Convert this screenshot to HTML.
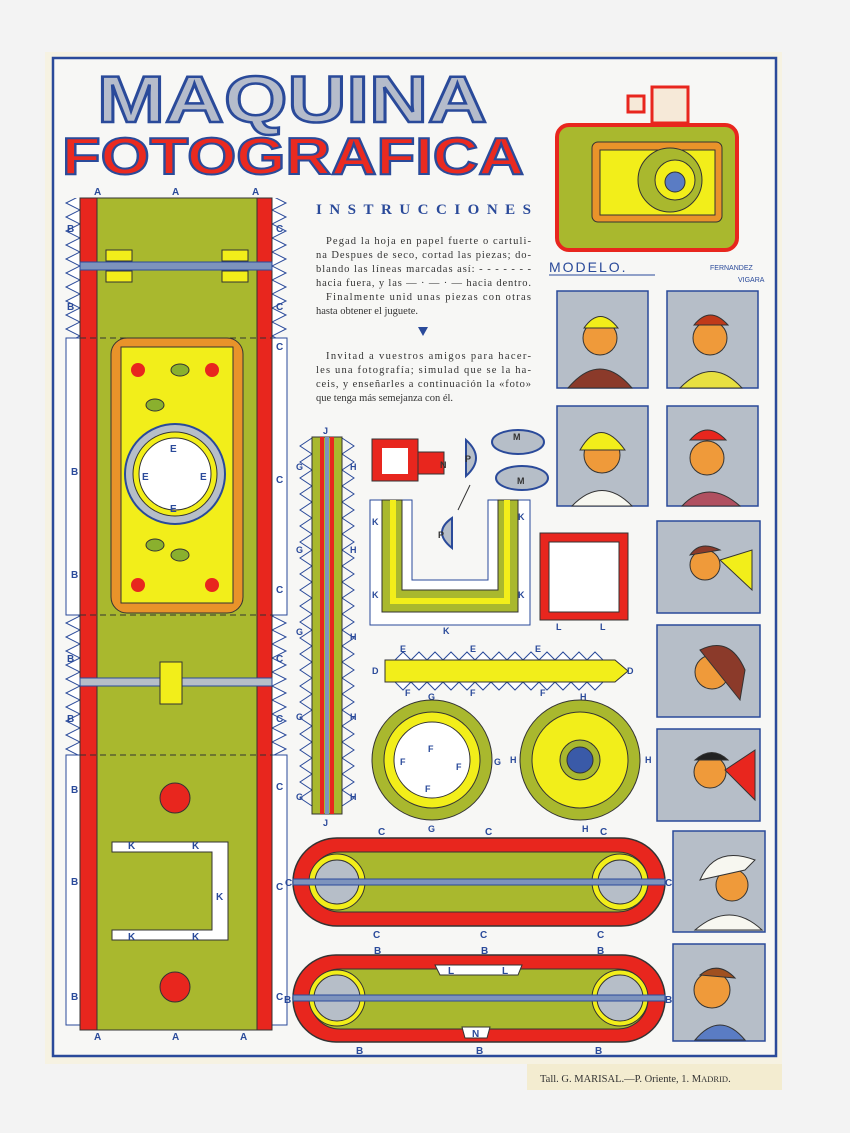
<!DOCTYPE html>
<html><head><meta charset="utf-8"><style>
html,body{margin:0;padding:0;background:#f2f2f2;}
svg{display:block}
text{font-family:"Liberation Sans",sans-serif;}
text.s, .s text{font-family:"Liberation Serif",serif;}
</style></head><body>
<svg width="850" height="1133" viewBox="0 0 850 1133" xmlns="http://www.w3.org/2000/svg">
<defs>
<pattern id="zzL" width="16" height="14" patternUnits="userSpaceOnUse"><path d="M16 0 L2 7 L16 14" fill="#fff" stroke="#2a4a9a" stroke-width="1"/></pattern>
</defs>
<rect width="850" height="1133" fill="#f3f3f3"/>
<rect x="45" y="52" width="737" height="1012" fill="#f6f2e2"/>
<rect x="53" y="58" width="723" height="998" fill="#f7f7f5" stroke="#2a4a9a" stroke-width="2.5"/>
<rect x="527" y="1064" width="255" height="26" fill="#f3ecd0"/>
<text class="s" x="540" y="1082" font-size="10.5" fill="#333">Tall. G. MARISAL.—P. Oriente, 1. M<tspan font-size="8.5">ADRID</tspan>.</text>

<!-- Title -->
<g font-weight="bold">
<text x="97" y="122" font-size="66" fill="#b5bccb" stroke="#2a4a9a" stroke-width="2.5" textLength="390" lengthAdjust="spacingAndGlyphs">MAQUINA</text>
<text x="62" y="174" font-size="52" fill="#ea2a20" stroke="#2a4a9a" stroke-width="2" textLength="462" lengthAdjust="spacingAndGlyphs">FOTOGRAFICA</text>
</g>

<!-- Instructions -->
<text class="s" x="316" y="214" font-weight="bold" font-size="15" fill="#2a4a9a" textLength="215" lengthAdjust="spacing">INSTRUCCIONES</text>
<g class="s" font-size="10.5" fill="#333">
<text x="326" y="244" textLength="205">Pegad la hoja en papel fuerte o cartuli-</text>
<text x="316" y="258" textLength="215">na Despues de seco, cortad las piezas; do-</text>
<text x="316" y="272" textLength="215">blando las líneas marcadas así: - - - - - - -</text>
<text x="316" y="286" textLength="215">hacia fuera, y las — · — · — hacia dentro.</text>
<text x="326" y="300" textLength="205">Finalmente unid unas piezas con otras</text>
<text x="316" y="314">hasta obtener el juguete.</text>
<text x="326" y="359" textLength="205">Invitad a vuestros amigos para hacer-</text>
<text x="316" y="373" textLength="215">les una fotografía; simulad que se la ha-</text>
<text x="316" y="387" textLength="215">ceis, y enseñarles a continuación la «foto»</text>
<text x="316" y="401">que tenga más semejanza con él.</text>
</g>
<path d="M418 327 L428 327 L423 336Z" fill="#2a4a9a"/>

<!-- Camera model -->
<g stroke="#333" stroke-width="1">
<rect x="628" y="96" width="16" height="16" fill="#f6e9d8" stroke="#e8261e" stroke-width="3"/>
<rect x="652" y="87" width="36" height="36" fill="#f6e9d8" stroke="#e8261e" stroke-width="3"/>
<rect x="557" y="125" width="180" height="125" rx="12" fill="#a9b82e" stroke="#e8261e" stroke-width="4"/>
<rect x="592" y="142" width="130" height="80" rx="6" fill="#e9932a"/>
<rect x="600" y="150" width="115" height="65" fill="#f2ee1a"/>
<circle cx="670" cy="180" r="32" fill="#a9b82e"/>
<circle cx="675" cy="180" r="20" fill="#f2ee1a"/>
<circle cx="675" cy="182" r="10" fill="#5a7cc4"/>
</g>
<text x="549" y="272" font-size="14" fill="#2a4a9a" letter-spacing="2">MODELO.</text>
<line x1="549" y1="275" x2="655" y2="275" stroke="#2a4a9a"/>
<text x="710" y="270" font-size="7" fill="#2a4a9a">FERNANDEZ</text>
<text x="738" y="282" font-size="7" fill="#2a4a9a">VIGARA</text>

<!-- Portraits -->
<g fill="#b6bec8" stroke="#2a4a9a" stroke-width="1.5">
<rect x="557" y="291" width="91" height="97"/><rect x="667" y="291" width="91" height="97"/>
<rect x="557" y="406" width="91" height="100"/><rect x="667" y="406" width="91" height="100"/>
<rect x="657" y="521" width="103" height="92"/><rect x="657" y="625" width="103" height="92"/>
<rect x="657" y="729" width="103" height="92"/><rect x="673" y="831" width="92" height="101"/>
<rect x="673" y="944" width="92" height="97"/>
</g>
<g stroke="#333" stroke-width="1">
<circle cx="600" cy="338" r="17" fill="#ef9a3a"/><path d="M568 388 Q600 350 632 388Z" fill="#8b3a2a"/><path d="M584 328 Q600 305 618 328Z" fill="#f2ee1a"/>
<circle cx="710" cy="338" r="17" fill="#ef9a3a"/><path d="M680 388 Q712 355 742 388Z" fill="#e8e040"/><path d="M694 325 Q710 305 728 325Z" fill="#c03a1a"/>
<circle cx="602" cy="455" r="18" fill="#ef9a3a"/><path d="M580 450 Q600 415 625 450Z" fill="#f2ee1a"/><path d="M572 506 Q602 475 632 506Z" fill="#f7f7f0"/>
<circle cx="707" cy="458" r="17" fill="#ef9a3a"/><path d="M690 440 Q707 420 726 440Z" fill="#e8261e"/><path d="M682 506 Q708 478 740 506Z" fill="#b05060"/>
<circle cx="705" cy="565" r="15" fill="#ef9a3a"/><path d="M690 555 Q700 540 720 550Z" fill="#8b3a2a"/><path d="M720 560 L752 550 L752 590Z" fill="#f2ee1a"/>
<circle cx="712" cy="672" r="17" fill="#ef9a3a"/><path d="M700 650 Q730 635 745 670 L740 700Z" fill="#8b3a2a"/>
<circle cx="710" cy="772" r="16" fill="#ef9a3a"/><path d="M695 760 Q712 745 728 760Z" fill="#222"/><path d="M725 770 L755 750 L755 800Z" fill="#e8261e"/>
<circle cx="732" cy="885" r="16" fill="#ef9a3a"/><path d="M700 880 Q715 845 755 860 L745 870Z" fill="#f7f7f0"/><path d="M695 930 Q730 900 762 930Z" fill="#f7f7f0"/>
<circle cx="712" cy="990" r="18" fill="#ef9a3a"/><path d="M700 975 Q718 960 735 978Z" fill="#a05020"/><path d="M695 1040 Q720 1010 745 1040Z" fill="#5a7cc4"/>
</g>

<!-- Long strip -->
<rect x="65" y="198" width="16" height="140" fill="url(#zzL)"/>
<rect x="65" y="615" width="16" height="140" fill="url(#zzL)"/>
<rect x="272" y="198" width="16" height="140" fill="url(#zzL)" transform="translate(560 0) scale(-1 1)"/>
<rect x="272" y="615" width="16" height="140" fill="url(#zzL)" transform="translate(560 0) scale(-1 1)"/>
<rect x="66" y="338" width="15" height="277" fill="#fff" stroke="#2a4a9a"/>
<rect x="272" y="338" width="15" height="277" fill="#fff" stroke="#2a4a9a"/>
<rect x="66" y="755" width="15" height="270" fill="#fff" stroke="#2a4a9a"/>
<rect x="272" y="755" width="15" height="270" fill="#fff" stroke="#2a4a9a"/>
<rect x="80" y="198" width="192" height="832" fill="#e8261e" stroke="#333"/>
<rect x="97" y="198" width="160" height="832" fill="#a9b82e" stroke="#333"/>
<g stroke="#333" stroke-dasharray="6 4"><line x1="80" y1="338" x2="272" y2="338"/><line x1="80" y1="615" x2="272" y2="615"/><line x1="80" y1="755" x2="272" y2="755"/></g>
<rect x="80" y="262" width="192" height="8" fill="#7d93bd" stroke="#2a4a9a"/>
<rect x="80" y="678" width="192" height="8" fill="#b6bec8" stroke="#2a4a9a"/>
<g fill="#f2ee1a" stroke="#333"><rect x="106" y="250" width="26" height="11"/><rect x="222" y="250" width="26" height="11"/><rect x="106" y="271" width="26" height="11"/><rect x="222" y="271" width="26" height="11"/><rect x="160" y="662" width="22" height="42"/></g>
<rect x="111" y="338" width="132" height="275" rx="16" fill="#e9932a" stroke="#333"/>
<rect x="121" y="347" width="112" height="256" fill="#f2ee1a" stroke="#333"/>
<circle cx="175" cy="474" r="50" fill="#b6bec8" stroke="#2a4a9a" stroke-width="2"/>
<circle cx="175" cy="474" r="42" fill="#f2ee1a" stroke="#333"/>
<circle cx="175" cy="474" r="36" fill="#fff" stroke="#333"/>
<g fill="#e8261e"><circle cx="138" cy="370" r="7"/><circle cx="212" cy="370" r="7"/><circle cx="138" cy="585" r="7"/><circle cx="212" cy="585" r="7"/></g>
<g fill="#8ab02e" stroke="#333"><ellipse cx="180" cy="370" rx="9" ry="6"/><ellipse cx="155" cy="405" rx="9" ry="6"/><ellipse cx="155" cy="545" rx="9" ry="6"/><ellipse cx="180" cy="555" rx="9" ry="6"/></g>
<circle cx="175" cy="798" r="15" fill="#e8261e" stroke="#333"/>
<circle cx="175" cy="987" r="15" fill="#e8261e" stroke="#333"/>
<path d="M112 842 H228 V940 H112 V930 H212 V852 H112Z" fill="#fff" stroke="#333"/>
<g font-size="10" fill="#2a4a9a" font-weight="bold">
<text x="94" y="195">A</text><text x="172" y="195">A</text><text x="252" y="195">A</text>
<text x="94" y="1040">A</text><text x="172" y="1040">A</text><text x="240" y="1040">A</text>
<text x="67" y="232">B</text><text x="67" y="310">B</text><text x="71" y="475">B</text><text x="71" y="578">B</text><text x="67" y="662">B</text><text x="67" y="722">B</text><text x="71" y="793">B</text><text x="71" y="885">B</text><text x="71" y="1000">B</text>
<text x="276" y="232">C</text><text x="276" y="310">C</text><text x="276" y="350">C</text><text x="276" y="483">C</text><text x="276" y="593">C</text><text x="276" y="662">C</text><text x="276" y="722">C</text><text x="276" y="790">C</text><text x="276" y="890">C</text><text x="276" y="1000">C</text>
<text x="170" y="452">E</text><text x="142" y="480">E</text><text x="200" y="480">E</text><text x="170" y="512">E</text>
<text x="128" y="849">K</text><text x="192" y="849">K</text><text x="216" y="900">K</text><text x="128" y="940">K</text><text x="192" y="940">K</text>
</g>

<!-- Vertical strip J -->
<path d="M312 438 L300 446 L312 454 L300 462 L312 470 L300 478 L312 486 L300 494 L312 502 L300 510 L312 518 L300 526 L312 534 L300 542 L312 550 L300 558 L312 566 L300 574 L312 582 L300 590 L312 598 L300 606 L312 614 L300 622 L312 630 L300 638 L312 646 L300 654 L312 662 L300 670 L312 678 L300 686 L312 694 L300 702 L312 710 L300 718 L312 726 L300 734 L312 742 L300 750 L312 758 L300 766 L312 774 L300 782 L312 790 L300 798 L312 806" fill="none" stroke="#2a4a9a"/>
<path d="M342 438 L354 446 L342 454 L354 462 L342 470 L354 478 L342 486 L354 494 L342 502 L354 510 L342 518 L354 526 L342 534 L354 542 L342 550 L354 558 L342 566 L354 574 L342 582 L354 590 L342 598 L354 606 L342 614 L354 622 L342 630 L354 638 L342 646 L354 654 L342 662 L354 670 L342 678 L354 686 L342 694 L354 702 L342 710 L354 718 L342 726 L354 734 L342 742 L354 750 L342 758 L354 766 L342 774 L354 782 L342 790 L354 798 L342 806" fill="none" stroke="#2a4a9a"/>
<rect x="312" y="437" width="30" height="377" fill="#a9b82e" stroke="#333"/>
<rect x="320" y="437" width="4" height="377" fill="#e8261e"/><rect x="330" y="437" width="4" height="377" fill="#e8261e"/>
<rect x="325" y="437" width="4" height="377" fill="#7d93bd"/>
<g font-size="9" fill="#2a4a9a" font-weight="bold"><text x="323" y="434">J</text><text x="323" y="826">J</text>
<text x="296" y="470">G</text><text x="296" y="553">G</text><text x="296" y="635">G</text><text x="296" y="720">G</text><text x="296" y="800">G</text>
<text x="350" y="470">H</text><text x="350" y="553">H</text><text x="350" y="640">H</text><text x="350" y="720">H</text><text x="350" y="800">H</text></g>

<!-- viewfinder pieces -->
<rect x="372" y="439" width="46" height="42" fill="#e8261e" stroke="#333"/>
<rect x="382" y="448" width="26" height="26" fill="#fff"/>
<path d="M418 452 H444 V474 H418Z" fill="#e8261e" stroke="#333"/>
<path d="M466 440 Q486 458 466 476Z" fill="#b6bec8" stroke="#2a4a9a" stroke-width="2"/>
<path d="M452 518 Q432 532 452 548Z" fill="#b6bec8" stroke="#2a4a9a" stroke-width="2"/>
<ellipse cx="518" cy="442" rx="26" ry="12" fill="#b6bec8" stroke="#2a4a9a" stroke-width="2"/>
<ellipse cx="522" cy="478" rx="26" ry="12" fill="#b6bec8" stroke="#2a4a9a" stroke-width="2"/>
<line x1="470" y1="485" x2="458" y2="510" stroke="#333"/>
<g font-size="9" fill="#333" font-weight="bold"><text x="440" y="468">N</text><text x="465" y="462">P</text><text x="438" y="538">P</text><text x="513" y="440">M</text><text x="517" y="484">M</text></g>

<!-- U piece -->
<path d="M370 500 H412 V580 H488 V500 H530 V625 H370Z" fill="#fff" stroke="#2a4a9a"/>
<path d="M382 500 H402 V590 H498 V500 H518 V612 H382Z" fill="#a9b82e" stroke="#333"/>
<path d="M390 500 H396 V598 H504 V500 H510 V604 H390Z" fill="#f2ee1a"/>
<g font-size="9" fill="#2a4a9a" font-weight="bold"><text x="372" y="525">K</text><text x="372" y="598">K</text><text x="518" y="520">K</text><text x="518" y="598">K</text><text x="443" y="634">K</text></g>

<!-- Square L -->
<rect x="540" y="533" width="88" height="87" fill="#e8261e" stroke="#333"/>
<rect x="549" y="542" width="70" height="70" fill="#fff" stroke="#333"/>
<g font-size="9" fill="#2a4a9a" font-weight="bold"><text x="556" y="630">L</text><text x="600" y="630">L</text></g>

<!-- D strip -->
<path d="M395 660 L403 652 L411 660 L419 652 L427 660 L435 652 L443 660 L451 652 L459 660 L467 652 L475 660 L483 652 L491 660 L499 652 L507 660 L515 652 L523 660 L531 652 L539 660 L547 652 L555 660 L563 652 L571 660 L579 652 L587 660 L595 652 L603 660" fill="#fff" stroke="#2a4a9a"/>
<path d="M395 682 L403 690 L411 682 L419 690 L427 682 L435 690 L443 682 L451 690 L459 682 L467 690 L475 682 L483 690 L491 682 L499 690 L507 682 L515 690 L523 682 L531 690 L539 682 L547 690 L555 682 L563 690 L571 682 L579 690 L587 682 L595 690 L603 682" fill="#fff" stroke="#2a4a9a"/>
<path d="M385 660 H615 L628 671 L615 682 H385Z" fill="#f2ee1a" stroke="#333"/>
<g font-size="9" fill="#2a4a9a" font-weight="bold"><text x="372" y="674">D</text><text x="627" y="674">D</text><text x="400" y="652">E</text><text x="470" y="652">E</text><text x="535" y="652">E</text><text x="405" y="696">F</text><text x="470" y="696">F</text><text x="540" y="696">F</text><text x="428" y="700">G</text><text x="580" y="700">H</text></g>

<!-- Circles -->
<circle cx="432" cy="760" r="60" fill="#a9b82e" stroke="#333"/>
<circle cx="432" cy="760" r="48" fill="#f2ee1a" stroke="#333"/>
<circle cx="432" cy="760" r="38" fill="#fff" stroke="#333"/>
<circle cx="580" cy="760" r="60" fill="#a9b82e" stroke="#333"/>
<circle cx="580" cy="760" r="48" fill="#f2ee1a" stroke="#333"/>
<circle cx="580" cy="760" r="20" fill="#a9b82e" stroke="#333"/>
<circle cx="580" cy="760" r="13" fill="#3a5aa8" stroke="#333"/>
<g font-size="9" fill="#2a4a9a" font-weight="bold"><text x="428" y="752">F</text><text x="400" y="765">F</text><text x="456" y="770">F</text><text x="425" y="792">F</text><text x="494" y="765">G</text><text x="428" y="832">G</text><text x="510" y="763">H</text><text x="645" y="763">H</text><text x="582" y="832">H</text></g>

<!-- Capsule C -->
<rect x="293" y="838" width="372" height="88" rx="44" fill="#e8261e" stroke="#333" stroke-width="1.5"/>
<rect x="310" y="852" width="338" height="60" rx="30" fill="#a9b82e" stroke="#333"/>
<circle cx="337" cy="882" r="28" fill="#f2ee1a" stroke="#333"/><circle cx="337" cy="882" r="22" fill="#b6bec8" stroke="#333"/>
<circle cx="620" cy="882" r="28" fill="#f2ee1a" stroke="#333"/><circle cx="620" cy="882" r="22" fill="#b6bec8" stroke="#333"/>
<rect x="293" y="879" width="372" height="6" fill="#7d93bd" stroke="#2a4a9a"/>
<!-- Capsule B -->
<rect x="293" y="955" width="372" height="87" rx="43" fill="#e8261e" stroke="#333" stroke-width="1.5"/>
<rect x="310" y="969" width="338" height="60" rx="30" fill="#a9b82e" stroke="#333"/>
<circle cx="337" cy="998" r="28" fill="#f2ee1a" stroke="#333"/><circle cx="337" cy="998" r="23" fill="#b6bec8" stroke="#333"/>
<circle cx="620" cy="998" r="28" fill="#f2ee1a" stroke="#333"/><circle cx="620" cy="998" r="23" fill="#b6bec8" stroke="#333"/>
<rect x="293" y="995" width="372" height="6" fill="#7d93bd" stroke="#2a4a9a"/>
<path d="M435 965 H522 L518 975 H440Z" fill="#fff" stroke="#333"/>
<path d="M462 1027 H490 L487 1038 H465Z" fill="#fff" stroke="#333"/>
<g font-size="10" fill="#2a4a9a" font-weight="bold">
<text x="378" y="835">C</text><text x="485" y="835">C</text><text x="600" y="835">C</text>
<text x="285" y="886">C</text><text x="665" y="886">C</text>
<text x="373" y="938">C</text><text x="480" y="938">C</text><text x="597" y="938">C</text>
<text x="374" y="954">B</text><text x="481" y="954">B</text><text x="597" y="954">B</text>
<text x="284" y="1003">B</text><text x="665" y="1003">B</text>
<text x="356" y="1054">B</text><text x="476" y="1054">B</text><text x="595" y="1054">B</text>
<text x="448" y="974">L</text><text x="502" y="974">L</text><text x="472" y="1037">N</text>
</g>
</svg>
</body></html>
